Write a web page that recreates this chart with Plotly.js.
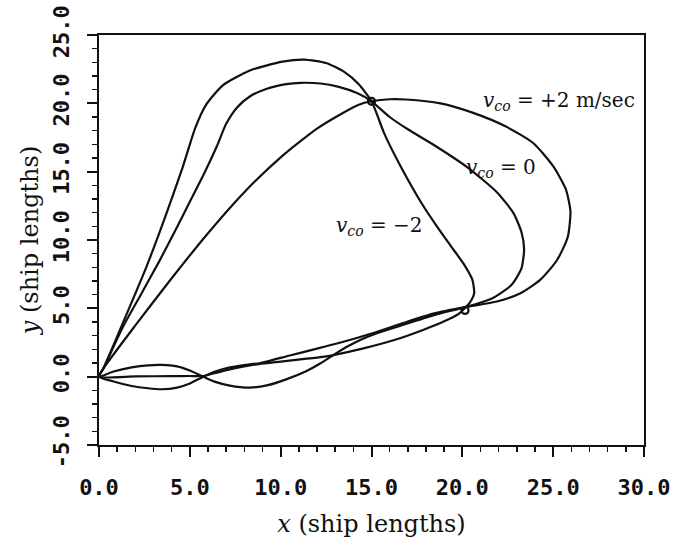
<!DOCTYPE html>
<html>
<head>
<meta charset="utf-8">
<script src="https://cdn.plot.ly/plotly-3.0.1.min.js"></script>
<style>html,body{margin:0;padding:0;background:#fff;}#chart{width:679px;height:550px;}</style>
</head>
<body>
<div id="chart"></div>
<script>
// ---- data (ship lengths) ----
// v_co = +2 m/sec : outbound leg, right loop, return along bottom
var plusX = [0,0.24,2.0,4.0,6.0,8.0,10.0,12.0,13.5,14.3,15.0,
  16.0,16.9,18.8,20.6,22.4,23.9,25.0,25.7,25.95,25.8,25.2,24.3,23.2,21.9,20.2,
  18.5,16.8,15.1,13.3,12.0,10.5,8.9,8.0,7.2,6.4,5.74,5.0,4.3,3.45,2.7,1.8,0.8,0];
var plusY = [0,0.6,3.75,7.2,10.5,13.5,16.05,18.15,19.35,19.9,20.15,
  20.3,20.28,20.0,19.3,18.3,17.1,15.4,13.7,12.1,10.2,8.5,7.1,6.1,5.5,5.1,
  4.65,3.95,3.2,2.5,2.05,1.55,1.0,0.85,0.68,0.38,0,-0.5,-0.8,-0.92,-0.85,-0.68,-0.35,0];

// v_co = 0
var zeroX = [0,0.24,1.3,2.3,3.3,4.2,5.0,5.8,6.5,7.0,7.6,8.3,9.2,10.3,11.1,12.2,13.2,14.2,15.0,
  16.0,17.0,18.5,20.3,21.9,22.8,23.25,23.4,23.25,22.7,21.6,20.2,
  18.5,16.8,15.3,14.5,13.7,12.9,12.2,11.4,10.3,9.3,8.3,7.2,6.4,5.74,5.0,4.3,3.45,2.7,1.8,0.8,0];
var zeroY = [0,0.6,3.6,6.0,8.4,10.7,12.8,14.9,16.9,18.5,19.7,20.5,21.05,21.4,21.5,21.45,21.2,20.75,20.15,
  19.0,18.1,16.9,15.3,13.5,12.0,10.6,9.3,7.9,6.7,5.7,5.1,
  4.52,3.82,3.17,2.75,2.22,1.58,0.98,0.4,-0.2,-0.62,-0.8,-0.65,-0.38,0,0.45,0.75,0.86,0.83,0.68,0.38,0];

// v_co = -2
var minusX = [0,0.24,1.4,2.6,3.7,4.6,5.3,5.9,6.8,8.3,10.1,11.3,12.5,13.5,14.3,15.0,
  15.3,15.7,16.6,17.8,18.6,19.4,20.1,20.55,20.65,20.4,20.2,
  19.8,19.0,17.8,16.3,14.5,12.9,12.3,11.2,10.0,8.8,7.5,6.5,5.74,5.0,4.0,2.0,0];
var minusY = [0,0.6,4.2,8.0,11.9,15.3,18.2,19.9,21.3,22.4,23.05,23.2,22.95,22.3,21.4,20.15,
  19.2,17.8,15.4,12.6,11.0,9.5,8.2,7.1,6.1,5.4,5.1,
  4.6,4.05,3.4,2.7,2.05,1.58,1.45,1.28,1.1,0.92,0.62,0.3,0.05,0.05,0.04,0.02,0];

// marked points
var markX = [15.0, 20.15];
var markY = [20.15, 4.85];

// tick labels
var xTickVals = [0,5,10,15,20,25,30];
var xTickText = ['0.0','5.0','10.0','15.0','20.0','25.0','30.0'];
var yTickVals = [-5,0,5,10,15,20,25];
var yTickText = ['-5.0','0.0','5.0','10.0','15.0','20.0','25.0'];

var curveLabels = ['<i>v</i><sub><i>co</i></sub> = +2 m/sec',
                   '<i>v</i><sub><i>co</i></sub> = 0',
                   '<i>v</i><sub><i>co</i></sub> = \u22122'];

var ink = '#111';
var lineStyle = {color: ink, width: 2.2, shape: 'spline', smoothing: 0.6};

var traces = [
  {x: plusX, y: plusY, mode: 'lines', line: lineStyle, name: 'v_co = +2', hoverinfo: 'skip'},
  {x: zeroX, y: zeroY, mode: 'lines', line: lineStyle, name: 'v_co = 0', hoverinfo: 'skip'},
  {x: minusX, y: minusY, mode: 'lines', line: lineStyle, name: 'v_co = -2', hoverinfo: 'skip'},
  {x: markX, y: markY, mode: 'markers', marker: {symbol: 'circle-open', size: 7, color: ink, line: {width: 2.2, color: ink}}, hoverinfo: 'skip'}
];

var tickFont = {family: 'DejaVu Sans Mono, Liberation Mono, monospace', size: 22, weight: 'bold', color: ink};
var serif = 'DejaVu Serif, Liberation Serif, serif';

var layout = {
  width: 679, height: 550,
  margin: {l: 99, r: 35, t: 35, b: 105, pad: 0},
  paper_bgcolor: '#fff', plot_bgcolor: '#fff',
  showlegend: false,
  xaxis: {
    range: [0, 30], tickvals: xTickVals, ticktext: xTickText,
    ticks: 'outside', ticklen: 10, tickwidth: 2, tickcolor: ink,
    minor: {dtick: 1, ticks: 'outside', ticklen: 5, tickwidth: 1.5, tickcolor: ink, showgrid: false},
    showline: true, linecolor: ink, linewidth: 2, mirror: true,
    showgrid: false, zeroline: false,
    tickfont: tickFont, ticklabelstandoff: 12,
    title: {text: '<i>x</i> (ship lengths)', font: {family: serif, size: 24, color: ink}, standoff: 16}
  },
  yaxis: {
    range: [-5, 25], tickvals: yTickVals, ticktext: yTickText,
    ticks: 'outside', ticklen: 10, tickwidth: 2, tickcolor: ink,
    minor: {dtick: 1, ticks: 'outside', ticklen: 5, tickwidth: 1.5, tickcolor: ink, showgrid: false},
    showline: true, linecolor: ink, linewidth: 2, mirror: true,
    showgrid: false, zeroline: false,
    tickfont: tickFont, tickangle: -90, ticklabelstandoff: 9,
    title: {text: '<i>y</i> (ship lengths)', font: {family: serif, size: 24, color: ink}, standoff: 4}
  },
  annotations: [
    {x: 29.6, y: 20.2, xref: 'x', yref: 'y', text: curveLabels[0], showarrow: false, xanchor: 'right', yanchor: 'middle', font: {family: serif, size: 20, color: ink}},
    {x: 20.1, y: 15.3, xref: 'x', yref: 'y', text: curveLabels[1], showarrow: false, xanchor: 'left', yanchor: 'middle', font: {family: serif, size: 20, color: ink}},
    {x: 12.95, y: 11.0, xref: 'x', yref: 'y', text: curveLabels[2], showarrow: false, xanchor: 'left', yanchor: 'middle', font: {family: serif, size: 20, color: ink}}
  ]
};

Plotly.newPlot('chart', traces, layout, {staticPlot: true, displayModeBar: false});
</script>
</body>
</html>
